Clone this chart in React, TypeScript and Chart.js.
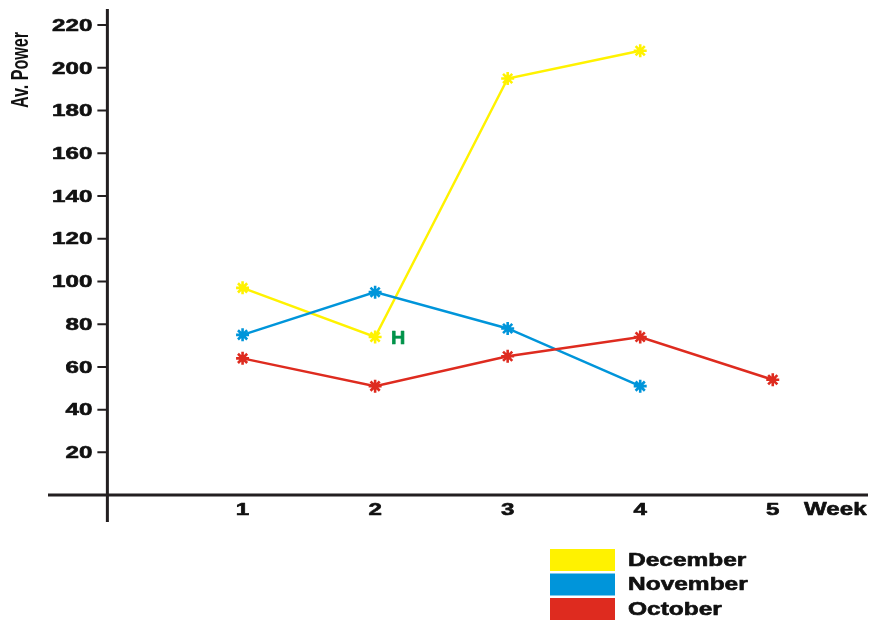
import React, { useEffect, useRef } from "react";
import { Chart, registerables } from "chart.js";

Chart.register(...registerables);

const weeks = [1, 2, 3, 4, 5];
const december = [97, 74, 195, 208];
const november = [75, 95, 78, 51];
const october = [64, 51, 65, 74, 54];
const yTicks = [20, 40, 60, 80, 100, 120, 140, 160, 180, 200, 220];
const xTickLabels = ["1", "2", "3", "4", "5"];
const seriesNames = ["December", "November", "October"];
const seriesColors = ["#FFF200", "#0095DA", "#DE2B1F"];
const noteText = "H";
const notePoint = { x: 2, y: 74 };

const AXIS = "#231F20";
const FONT = "'Liberation Sans', Arial, sans-serif";

function stretchText(ctx: CanvasRenderingContext2D, text: string, x: number, y: number, align: CanvasTextAlign, sx: number, thick = 0) {
  ctx.save();
  ctx.translate(x, y);
  ctx.scale(sx, 1);
  ctx.textAlign = align;
  ctx.textBaseline = "middle";
  ctx.fillText(text, 0, 0);
  if (thick > 0) {
    ctx.strokeStyle = ctx.fillStyle as string;
    ctx.lineWidth = thick;
    ctx.lineJoin = "round";
    ctx.strokeText(text, 0, 0);
  }
  ctx.restore();
}

const decorPlugin = {
  id: "decor",
  beforeDatasetsDraw(chart: any) {
    const { ctx, chartArea, scales } = chart;
    const xs = scales.x;
    const ys = scales.y;
    const x0 = xs.getPixelForValue(-0.02);
    const y0 = ys.getPixelForValue(0);
    ctx.save();
    ctx.strokeStyle = AXIS;
    ctx.lineWidth = 3;
    ctx.beginPath();
    ctx.moveTo(48, y0);
    ctx.lineTo(868, y0);
    ctx.moveTo(x0, chartArea.top);
    ctx.lineTo(x0, chartArea.bottom);
    ctx.stroke();
    ctx.lineWidth = 2;
    ctx.beginPath();
    yTicks.forEach((v) => {
      const py = ys.getPixelForValue(v);
      ctx.moveTo(x0 - 10, py);
      ctx.lineTo(x0, py);
    });
    ctx.stroke();
    ctx.fillStyle = "#111111";
    ctx.font = `bold 17px ${FONT}`;
    yTicks.forEach((v) => {
      stretchText(ctx, String(v), x0 - 15, ys.getPixelForValue(v) + 1, "right", 1.42, 0.6);
    });
    weeks.forEach((w, i) => {
      stretchText(ctx, xTickLabels[i], xs.getPixelForValue(w), y0 + 15, "center", 1.42, 0.6);
    });
    ctx.font = `bold 18px ${FONT}`;
    stretchText(ctx, "Week", 804, y0 + 15, "left", 1.34, 0.6);
    // y title
    ctx.save();
    ctx.translate(22, 70);
    ctx.rotate(-Math.PI / 2);
    ctx.scale(0.7, 1);
    ctx.font = `bold 23px ${FONT}`;
    ctx.textAlign = "center";
    ctx.textBaseline = "middle";
    ctx.fillText("Av. Power", 0, 0);
    ctx.restore();
    ctx.restore();
  },
  afterDatasetsDraw(chart: any) {
    const { ctx, scales } = chart;
    ctx.save();
    ctx.fillStyle = "#00934A";
    ctx.font = `bold 18px ${FONT}`;
    stretchText(ctx, noteText, scales.x.getPixelForValue(notePoint.x) + 23, scales.y.getPixelForValue(notePoint.y) + 2, "center", 1.1, 0.6);
    // legend
    seriesNames.forEach((name, i) => {
      const top = 549 + i * 24.5;
      ctx.fillStyle = seriesColors[i];
      ctx.fillRect(550, top, 65, 22);
      ctx.fillStyle = "#111111";
      ctx.font = `bold 18px ${FONT}`;
      stretchText(ctx, name, 628, top + 12, "left", 1.36, 0.6);
    });
    ctx.restore();
  },
};

export default function App() {
  const ref = useRef<HTMLCanvasElement>(null);
  useEffect(() => {
    if (!ref.current) return;
    const mk = (data: number[], color: string, label: string) => ({
      label,
      data: data.map((v, i) => ({ x: weeks[i], y: v })),
      borderColor: color,
      backgroundColor: color,
      borderWidth: 2.5,
      pointStyle: "star" as const,
      pointRadius: 6.5,
      pointBorderWidth: 2.6,
      pointBorderColor: color,
      tension: 0,
    });
    const chart = new Chart(ref.current, {
      type: "line",
      data: {
        datasets: [
          mk(october, seriesColors[2], seriesNames[2]),
          mk(november, seriesColors[1], seriesNames[1]),
          mk(december, seriesColors[0], seriesNames[0]),
        ],
      },
      options: {
        animation: false,
        responsive: false,
        events: [],
        layout: { padding: { left: 48, right: 2, top: 8, bottom: 98 } },
        plugins: { legend: { display: false }, tooltip: { enabled: false } },
        scales: {
          x: { type: "linear", display: false, min: -0.468, max: 5.665 },
          y: { type: "linear", display: false, min: -12.6, max: 227.5 },
        },
      },
      plugins: [decorPlugin],
    });
    return () => chart.destroy();
  }, []);
  return (
    <div style={{ position: "absolute", left: 0, top: 0, width: 870, height: 620, background: "#fff" }}>
      <canvas ref={ref} width={870} height={620} />
    </div>
  );
}
